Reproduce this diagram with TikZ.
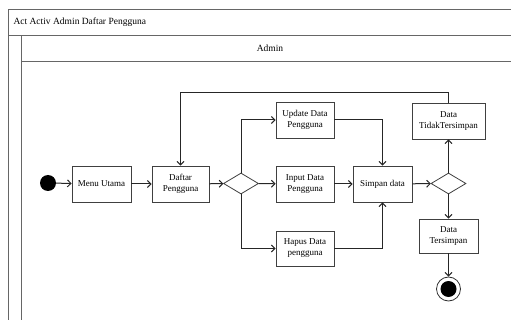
\documentclass[tikz,border=0pt]{standalone}
\usepackage{fontspec}
\setmainfont{Liberation Serif}
\usetikzlibrary{shapes.geometric,arrows.meta}
\tikzset{
  frame/.style={draw=black!60, line width=0.8pt},
  act/.style={draw=black!75, line width=0.8pt, fill=white, minimum height=36pt,
    minimum width=58pt, align=center, inner sep=1pt,
    font=\fontsize{9}{11}\selectfont},
  branch/.style={draw=black!75, line width=0.8pt, diamond, fill=white,
    minimum width=35pt, minimum height=21pt, inner sep=0pt},
  flow/.style={draw=black!85, line width=1pt, -{Straight Barb[length=3.5pt,width=7pt]}}
}
\begin{document}
\begin{tikzpicture}[x=1pt,y=-1pt]
   \useasboundingbox (0,0) rectangle (511,320);
   \clip (0,0) rectangle (511,320);
   % frame and swimlane
   \draw[frame] (8,340) -- (8,9) -- (530,9);
   \draw[frame] (8,35) -- (530,35);
   \draw[frame] (21,340) -- (21,35);
   \draw[frame] (21,61) -- (530,61);
   \node[anchor=west, font=\fontsize{9.5}{11}\selectfont] (title) at (10,22) {Act Activ Admin Daftar Pengguna};
   \node[font=\fontsize{9.5}{11}\selectfont] (lane) at (270,48) {Admin};
   % nodes
   \node[circle, fill=black, minimum size=16pt, inner sep=0pt] (start) at (48,183) {};
   \node[act, minimum width=59pt] (menu) at (101.5,184) {Menu Utama};
   \node[act, minimum width=57pt] (daftar) at (180.5,184) {Daftar\\Pengguna};
   \node[branch] (d1) at (241,183.5) {};
   \node[act] (update) at (305,120) {Update Data\\Pengguna};
   \node[act] (input) at (305,184) {Input Data\\Pengguna};
   \node[act, minimum height=35pt] (hapus) at (305,248.5) {Hapus Data\\pengguna};
   \node[act, minimum width=59pt] (simpan) at (382.5,184) {Simpan data};
   \node[branch] (d2) at (448.5,183.5) {};
   \node[act, minimum width=73pt] (tidak) at (448.5,121) {Data\\TidakTersimpan};
   \node[act, minimum width=59pt, minimum height=34pt] (tersimpan) at (448.5,236) {Data\\Tersimpan};
   \node[circle, draw=black!80, line width=0.8pt, fill=white, minimum size=24pt, inner sep=0pt] (end) at (448.5,289) {};
   \fill[black] (end.center) circle (8pt);
   % connectors
   \draw[flow] (start) -- (menu);
   \draw[flow] (menu) -- (daftar);
   \draw[flow] (daftar) -- (d1);
   \draw[flow] (d1.north) |- (update.west);
   \draw[flow] (d1) -- (input);
   \draw[flow] (d1.south) |- (hapus.west);
   \draw[flow] (update.east) -| (simpan.north);
   \draw[flow] (input) -- (simpan);
   \draw[flow] (hapus.east) -| (simpan.south);
   \draw[flow] (simpan) -- (d2);
   \draw[flow] (d2) -- (tidak);
   \draw[flow] (d2) -- (tersimpan);
   \draw[flow] (tersimpan) -- (end);
   \draw[flow] (tidak.north) -- ++(0,-10) -| (daftar.north);
\end{tikzpicture}
\end{document}
